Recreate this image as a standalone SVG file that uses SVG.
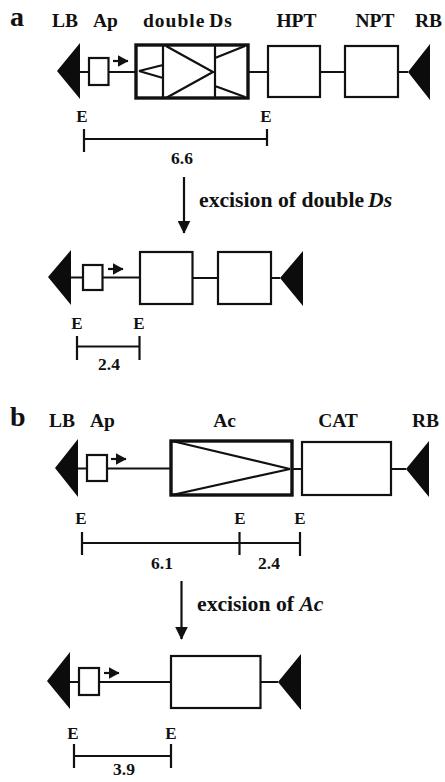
<svg xmlns="http://www.w3.org/2000/svg" width="445" height="782" viewBox="0 0 445 782">
<style>
text{font-family:"Liberation Serif","Times New Roman",serif;font-weight:bold;fill:#111;font-size:19.500px}
.c{text-anchor:middle}
.p{font-size:28px}
.e{font-size:17px}
.n{font-size:17.500px}
.x{font-size:21.700px}
.i{font-style:italic}
.b{fill:#fff;stroke:#111;stroke-width:2.200}
.B{fill:#fff;stroke:#111;stroke-width:3.400}
.l{fill:none;stroke:#111;stroke-width:2.200}
.t{fill:#0c0c0c}
</style>
<defs>
<marker id="h" viewBox="0 0 10 10" refX="9.500" refY="5" markerWidth="11" markerHeight="12" markerUnits="userSpaceOnUse" orient="auto" preserveAspectRatio="none"><path d="M0 0L10 5L0 10Z" fill="#111"/></marker>
<marker id="d" viewBox="0 0 10 10" refX="9.500" refY="5" markerWidth="13" markerHeight="13" markerUnits="userSpaceOnUse" orient="auto" preserveAspectRatio="none"><path d="M0 0L10 5L0 10Z" fill="#111"/></marker>
</defs>
<g id="connectors">
<path class="l" d="M80 72H135M248 72H268M320 72H345M398 72H408"/>
<path class="l" d="M71 277.500H140M192 278H218M271 278H280"/>
<path class="l" d="M78 468.500H171M292 469H302M391 469H406"/>
<path class="l" d="M70 682H171M261 682H278"/>
<path class="l" d="M113 61H128" marker-end="url(#h)"/>
<path class="l" d="M108 269H123" marker-end="url(#h)"/>
<path class="l" d="M111 459H126" marker-end="url(#h)"/>
<path class="l" d="M104 673H119" marker-end="url(#h)"/>
<path class="l" d="M184 177V233" marker-end="url(#d)"/>
<path class="l" d="M181.500 581V639" marker-end="url(#d)"/>
<path class="l" d="M84 139H267M84 129V152M267 129V146"/>
<path class="l" d="M77 346.500H139.500M77 336V360M139.500 336V360"/>
<path class="l" d="M82 543H300M82 532V555M239.500 532V555M300 532V556"/>
<path class="l" d="M74 756H171M74 744V768M171 744V768"/>
</g>
<g id="panel-a-label"><text class="p" x="10" y="26">a</text></g>
<g id="a-LB"><polygon class="t" points="57,71 80,43 80,99"/><text x="52" y="27">LB</text></g>
<g id="a-Ap"><rect class="b" x="89" y="58" width="19.500" height="27"/><text x="93" y="27">Ap</text></g>
<g id="a-double-Ds">
<rect class="B" x="136" y="45" width="112" height="53"/>
<path class="l" d="M163 45V98M215 45V98M166 46L213 72L166 98M139 71L163 65M139 71L163 78M215 58L245 46M215 86L245 97" stroke-width="2.600"/>
<text x="143" y="27" letter-spacing="1" word-spacing="-2">double Ds</text></g>
<g id="a-HPT"><rect class="b" x="268" y="46" width="52" height="51"/><text class="c" x="296.500" y="27">HPT</text></g>
<g id="a-NPT"><rect class="b" x="345" y="46" width="53" height="51"/><text class="c" x="375" y="27">NPT</text></g>
<g id="a-RB"><polygon class="t" points="408,72 430,44 430,100"/><text x="415" y="27">RB</text></g>
<g id="a-labels">
<text class="e c" x="82" y="121.500">E</text><text class="e c" x="266" y="121.500">E</text><text class="n c" x="182" y="164">6.6</text>
<text class="x" x="199" y="207">excision of double<tspan class="i" dx="4">Ds</tspan></text></g>
<g id="a2-LB"><polygon class="t" points="48,277 71,250 71,305"/></g>
<g id="a2-Ap"><rect class="b" x="83" y="265" width="19.500" height="25"/></g>
<g id="a2-HPT"><rect class="b" x="140" y="252" width="52.500" height="52"/></g>
<g id="a2-NPT"><rect class="b" x="218" y="252" width="53" height="52"/></g>
<g id="a2-RB"><polygon class="t" points="280,278 303,251 303,306"/></g>
<g id="a2-labels"><text class="e c" x="77" y="329">E</text><text class="e c" x="139" y="329">E</text><text class="n c" x="109" y="370">2.4</text></g>
<g id="panel-b-label"><text class="p" x="10" y="426">b</text></g>
<g id="b-LB"><polygon class="t" points="55,468 78,439 78,497"/><text x="49" y="427">LB</text></g>
<g id="b-Ap"><rect class="b" x="87" y="455" width="20" height="26"/><text x="90" y="427">Ap</text></g>
<g id="b-Ac"><rect class="B" x="171" y="441" width="121" height="54"/><path class="l" stroke-width="2.600" d="M172 441L290 469L172 495"/><text class="c" x="224.500" y="427">Ac</text></g>
<g id="b-CAT"><rect class="b" x="302" y="442" width="89" height="53"/><text class="c" x="338" y="427" font-size="21">CAT</text></g>
<g id="b-RB"><polygon class="t" points="406,469 429,441 429,497"/><text x="412" y="427">RB</text></g>
<g id="b-labels">
<text class="e c" x="81" y="524">E</text><text class="e c" x="240" y="524">E</text><text class="e c" x="300" y="524">E</text>
<text class="n c" x="162" y="569">6.1</text><text class="n c" x="269" y="569">2.4</text>
<text class="x" x="197" y="611">excision of <tspan class="i">Ac</tspan></text></g>
<g id="b2-LB"><polygon class="t" points="47,681 70,652 70,709"/></g>
<g id="b2-Ap"><rect class="b" x="79" y="668" width="20" height="27"/></g>
<g id="b2-CAT"><rect class="b" x="171" y="656" width="89.500" height="52"/></g>
<g id="b2-RB"><polygon class="t" points="278,682 301,654 301,710"/></g>
<g id="b2-labels"><text class="e c" x="73" y="739">E</text><text class="e c" x="171" y="739">E</text><text class="n c" x="124" y="775">3.9</text></g>
</svg>
